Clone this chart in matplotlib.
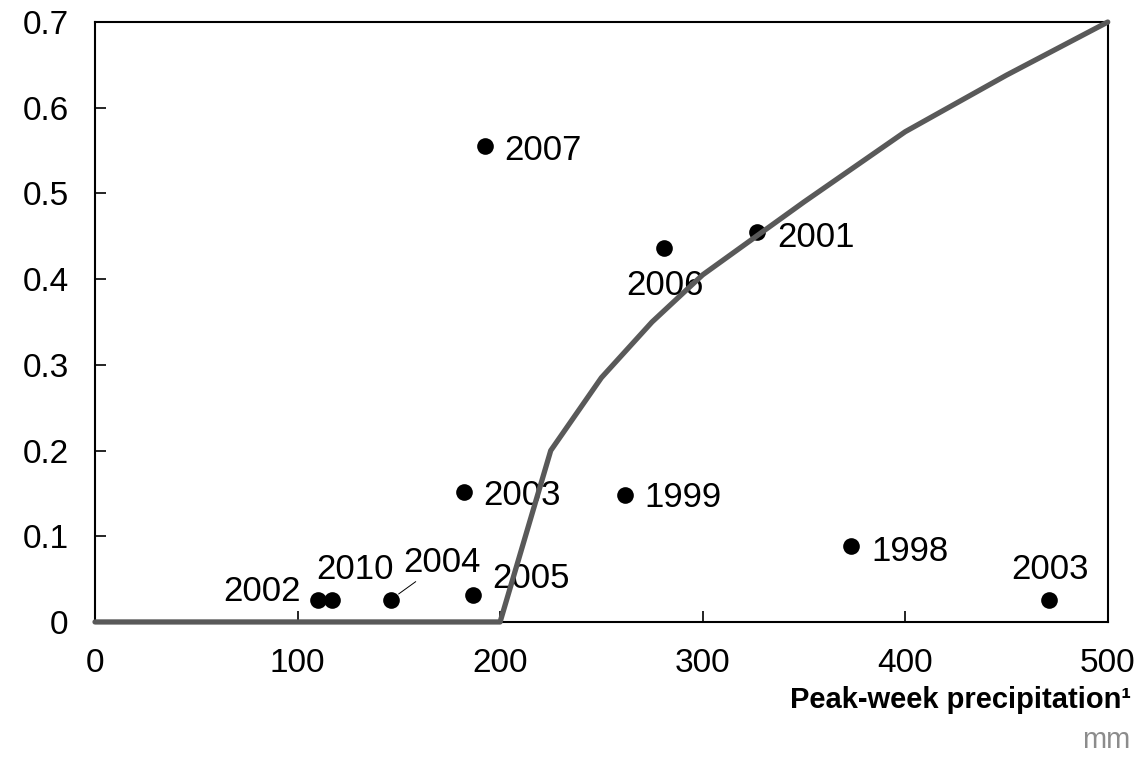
import matplotlib
matplotlib.use("Agg")
import matplotlib.pyplot as plt

plt.rcParams['font.family'] = ['Liberation Sans', 'DejaVu Sans']

# fitted curve
curve_x = [0, 200, 225, 250, 275, 300, 350, 400, 450, 500]
curve_y = [0, 0, 0.2, 0.285, 0.35, 0.405, 0.49, 0.572, 0.638, 0.7]

# observed years
years = ["2007", "2006", "2001", "2003", "1999", "1998", "2003", "2002", "2010", "2004", "2005"]
precip = [192.5, 281, 327, 182, 261.5, 373, 471, 110, 117, 146, 186.5]
share = [0.555, 0.436, 0.455, 0.152, 0.148, 0.089, 0.026, 0.026, 0.026, 0.026, 0.031]

# label offsets in points (dx, dy, ha)
offsets = [(14, -3, "left"), (-27, -27, "left"), (14, -4, "left"), (14, -3, "left"),
           (14, -2, "left"), (15, -4, "left"), (-27, 22, "left"), (-12, 6, "right"),
           (-11, 22, "left"), (9, 27, "left"), (14, 12, "left")]

fig = plt.figure(figsize=(11.42, 7.76), dpi=100)
ax = fig.add_axes([0.0832, 0.1985, 0.8868, 0.7731])

ax.plot(curve_x, curve_y, color="#595959", lw=3.8, solid_capstyle="round",
        clip_on=False, zorder=7)
ax.scatter(precip, share, s=144, color="black", zorder=5, clip_on=False, linewidths=0)

for yr, x, y, (dx, dy, ha) in zip(years, precip, share, offsets):
    ax.annotate(yr, (x, y), xytext=(dx, dy), textcoords="offset points",
                fontsize=25, ha=ha, va="center", zorder=6)

# leader line for 2004
ax.annotate("", (146, 0.026), xytext=(18, 13), textcoords="offset points",
            arrowprops=dict(arrowstyle="-", lw=0.7, color="black", shrinkA=0, shrinkB=7))

ax.set_xlim(0, 500)
ax.set_ylim(0, 0.7)
ax.set_xticks([0, 100, 200, 300, 400, 500])
ax.set_yticks([0, 0.1, 0.2, 0.3, 0.4, 0.5, 0.6, 0.7])
ax.set_yticklabels(["0", "0.1", "0.2", "0.3", "0.4", "0.5", "0.6", "0.7"])
ax.tick_params(direction="in", length=8, width=1.2, labelsize=24, pad=19)
for sp in ax.spines.values():
    sp.set_linewidth(1.5)

fig.text(0.99, 0.098, "Peak-week precipitation¹", ha="right", va="center",
         fontsize=21, fontweight="bold")
fig.text(0.99, 0.046, "mm", ha="right", va="center", fontsize=21, color="#8c8c8c")

fig.savefig("out.png", dpi=100)
